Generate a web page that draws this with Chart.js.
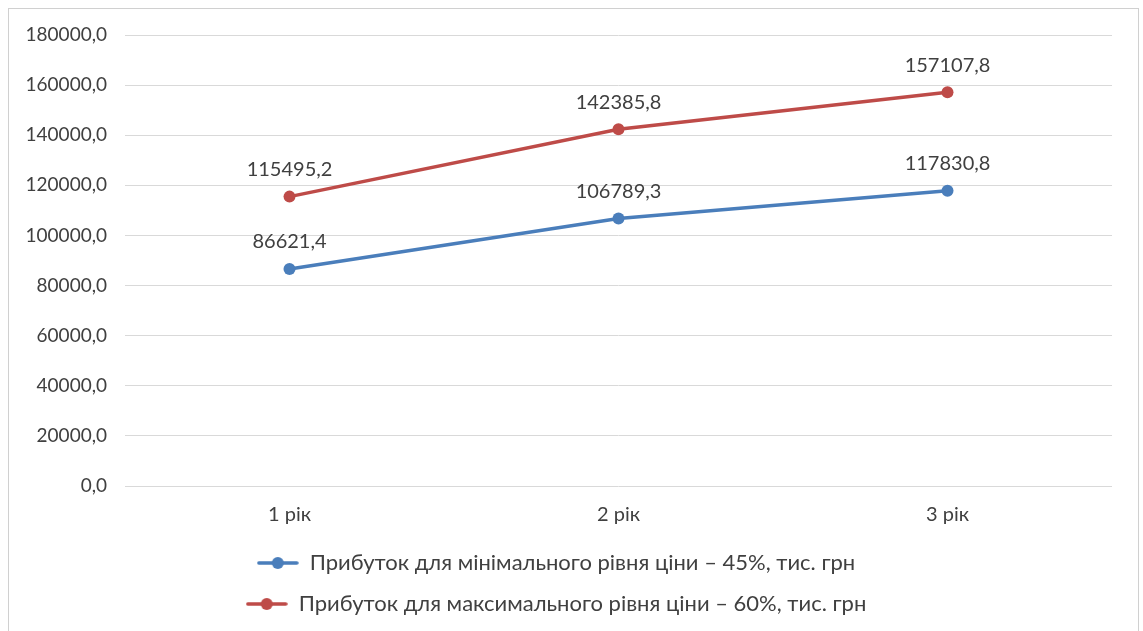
<!DOCTYPE html>
<html lang="uk">
<head>
<meta charset="utf-8">
<title>Прибуток</title>
<script src="https://cdn.jsdelivr.net/npm/chart.js@4/dist/chart.umd.min.js"></script>
<style>
  html, body { margin: 0; padding: 0; background: #ffffff; }
  #wrap { position: relative; width: 1143px; height: 631px; overflow: hidden; }
  #frame { position: absolute; left: 8px; top: 8px; width: 1131px; height: 640px;
           border: 1px solid #d0d0d0; box-sizing: border-box; pointer-events: none; }
  canvas { position: absolute; left: 0; top: 0; }
</style>
</head>
<body>
<div id="wrap">
  <canvas id="c" width="1143" height="631"></canvas>
  <div id="frame"></div>
</div>
<script>
const years = ['1 рік', '2 рік', '3 рік'];
const profitMin = [86621.4, 106789.3, 117830.8];
const profitMax = [115495.2, 142385.8, 157107.8];
const seriesNames = [
  'Прибуток для мінімального рівня ціни – 45%, тис. грн',
  'Прибуток для максимального рівня ціни – 60%, тис. грн'
];
const yMin = 0, yMax = 180000, yStep = 20000;

const BLUE = '#4a7ebb';
const RED = '#be4b48';
const TEXT = '#404040';
const FONT = 'Lato, "Open Sans", sans-serif';

const fmt = v => Number(v).toFixed(1).replace('.', ',');

// Small line-with-dot swatch used as the legend symbol
function swatch(color) {
  const c = document.createElement('canvas');
  c.width = 42; c.height = 14;
  const g = c.getContext('2d');
  g.strokeStyle = color; g.lineWidth = 3.5; g.lineCap = 'round';
  g.beginPath(); g.moveTo(2, 7); g.lineTo(40, 7); g.stroke();
  g.fillStyle = color;
  g.beginPath(); g.arc(21, 7, 6, 0, Math.PI * 2); g.fill();
  return c;
}

// Value labels above every point
const valueLabels = {
  id: 'valueLabels',
  afterDatasetsDraw(chart) {
    const ctx = chart.ctx;
    ctx.save();
    ctx.font = '20px ' + FONT;
    ctx.fillStyle = TEXT;
    ctx.textAlign = 'center';
    ctx.textBaseline = 'middle';
    chart.data.datasets.forEach((ds, i) => {
      const meta = chart.getDatasetMeta(i);
      meta.data.forEach((pt, j) => {
        ctx.fillText(fmt(ds.data[j]), pt.x, pt.y - 27);
      });
    });
    ctx.restore();
  }
};

new Chart(document.getElementById('c'), {
  type: 'line',
  data: {
    labels: years,
    datasets: [
      { label: seriesNames[0], data: profitMin, borderColor: BLUE, backgroundColor: BLUE,
        borderWidth: 3.5, pointRadius: 6, pointHoverRadius: 6, pointBorderWidth: 0,
        pointStyle: 'circle', tension: 0 },
      { label: seriesNames[1], data: profitMax, borderColor: RED, backgroundColor: RED,
        borderWidth: 3.5, pointRadius: 6, pointHoverRadius: 6, pointBorderWidth: 0,
        pointStyle: 'circle', tension: 0 }
    ]
  },
  options: {
    responsive: false,
    animation: false,
    layout: { padding: { left: 0, right: 31, top: 35, bottom: 6 } },
    scales: {
      x: {
        offset: true,
        grid: { display: false, drawTicks: false },
        border: { display: false },
        ticks: { color: TEXT, font: { family: FONT, size: 20 }, padding: 17 },
        afterFit(scale) { scale.height = 47; }
      },
      y: {
        min: yMin, max: yMax,
        grid: { color: '#d9d9d9', lineWidth: 1, drawTicks: false },
        border: { display: false },
        ticks: { stepSize: yStep, color: TEXT, font: { family: FONT, size: 19 },
                 padding: 18, callback: v => fmt(v) },
        afterFit(scale) { scale.width = 125; }
      }
    },
    plugins: {
      tooltip: { enabled: false },
      legend: {
        position: 'bottom',
        labels: {
          color: TEXT,
          font: { family: FONT, size: 22 },
          usePointStyle: true,
          pointStyleWidth: 42,
          padding: 19,
          generateLabels(chart) {
            return chart.data.datasets.map((ds, i) => ({
              text: ds.label,
              pointStyle: swatch(ds.borderColor),
              fillStyle: ds.borderColor,
              strokeStyle: ds.borderColor,
              lineWidth: 0,
              fontColor: TEXT,
              hidden: false,
              datasetIndex: i
            }));
          }
        }
      }
    }
  },
  plugins: [valueLabels]
});
</script>
</body>
</html>
